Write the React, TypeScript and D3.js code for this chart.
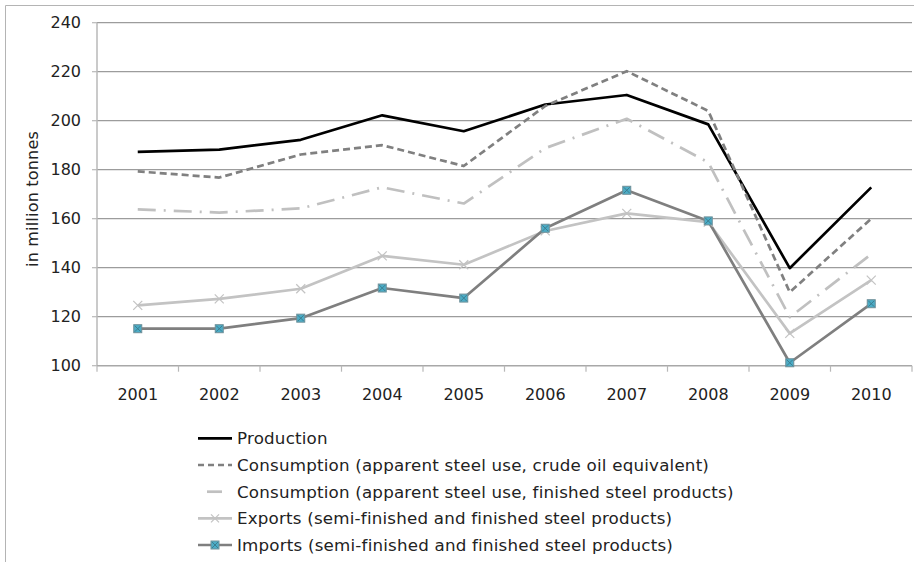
import React from "react";
import * as d3 from "d3";

const years = ["2001","2002","2003","2004","2005","2006","2007","2008","2009","2010"];
const production = [187.3, 188.2, 192.2, 202.2, 195.7, 206.6, 210.5, 198.5, 139.8, 172.8];
const consumptionCrude = [179.3, 176.8, 186.2, 190.0, 181.5, 206.0, 220.2, 204.0, 130.0, 160.0];
const consumptionFinished = [163.8, 162.5, 164.2, 172.8, 166.2, 188.8, 200.8, 183.0, 119.8, 145.5];
const exportsVals = [124.6, 127.3, 131.4, 144.8, 141.2, 155.0, 162.2, 158.6, 113.2, 134.9];
const importsVals = [115.1, 115.1, 119.4, 131.7, 127.6, 156.1, 171.6, 159.1, 101.2, 125.3];
const yTicks = [100, 120, 140, 160, 180, 200, 220, 240];
const legendLabels = [
  "Production",
  "Consumption (apparent steel use, crude oil equivalent)",
  "Consumption (apparent steel use, finished steel products)",
  "Exports (semi-finished and finished steel products)",
  "Imports (semi-finished and finished steel products)",
];

const FONT = "'DejaVu Sans', sans-serif";

export default function App() {
  const W = 914, H = 562;
  const left = 97, right = 912, top = 22.7, bottom = 365.7;
  const x = d3.scaleBand<string>().domain(years).range([left, right]);
  const y = d3.scaleLinear().domain([100, 240]).range([bottom, top]);
  const cx = (i: number) => (x(years[i]) as number) + x.bandwidth() / 2;
  const line = d3.line<number>().x((_, i) => cx(i)).y((d) => y(d));

  const series = [
    { values: production, color: "#000000", dash: undefined as string | undefined, width: 2.7 },
    { values: consumptionCrude, color: "#808080", dash: "7,4", width: 2.7 },
    { values: consumptionFinished, color: "#c0c0c0", dash: "18,8,2,8", width: 2.7 },
    { values: exportsVals, color: "#c3c3c3", dash: undefined, width: 2.7 },
    { values: importsVals, color: "#7f7f7f", dash: undefined, width: 2.7 },
  ];

  const boundaries = [...years.map((yr) => x(yr) as number), right];
  const legendY = [438.3, 465, 491.7, 518.3, 545];

  const xMarker = (px: number, py: number, s: number, color: string, w: number, key: string) => (
    <g key={key} stroke={color} strokeWidth={w}>
      <line x1={px - s} y1={py - s} x2={px + s} y2={py + s} />
      <line x1={px - s} y1={py + s} x2={px + s} y2={py - s} />
    </g>
  );
  const sqMarker = (px: number, py: number, key: string) => (
    <g key={key}>
      <rect x={px - 4} y={py - 4} width={8} height={8} fill="#4bacc6" stroke="#6f8f98" strokeWidth={1} />
      <line x1={px - 3} y1={py - 3} x2={px + 3} y2={py + 3} stroke="#3d7e90" strokeWidth={1} />
      <line x1={px - 3} y1={py + 3} x2={px + 3} y2={py - 3} stroke="#3d7e90" strokeWidth={1} />
    </g>
  );

  return (
    <div style={{ position: "absolute", left: 0, top: 0, background: "#fff" }}>
      <svg width={W} height={H} style={{ display: "block" }} fontFamily={FONT}>
        <rect x={0} y={0} width={W} height={H} fill="#ffffff" />
        <line x1={5.5} y1={5.5} x2={W} y2={5.5} stroke="#b4b4b4" strokeWidth={1} />
        <line x1={5.5} y1={5.5} x2={5.5} y2={H} stroke="#b4b4b4" strokeWidth={1} />

        {yTicks.filter((t) => t !== 100).map((t) => (
          <line key={"g" + t} x1={left} x2={right} y1={y(t)} y2={y(t)} stroke="#9c9c9c" strokeWidth={1.2} />
        ))}
        <line x1={left} x2={left} y1={top} y2={bottom} stroke="#b8b8b8" strokeWidth={1.5} />
        {yTicks.map((t) => (
          <g key={"yt" + t}>
            <line x1={left - 5} x2={left} y1={y(t)} y2={y(t)} stroke="#b8b8b8" strokeWidth={1.2} />
            <text x={81} y={y(t)} dy="0.36em" textAnchor="end" fontSize={16} fill="#222">{t}</text>
          </g>
        ))}
        <line x1={left} x2={right} y1={bottom} y2={bottom} stroke="#a8a8a8" strokeWidth={1.5} />
        {boundaries.map((b, i) => (
          <line key={"xt" + i} x1={b} x2={b} y1={bottom} y2={bottom + 6} stroke="#b8b8b8" strokeWidth={1.2} />
        ))}
        {years.map((yr, i) => (
          <text key={"xl" + yr} x={cx(i)} y={394} dy="0.36em" textAnchor="middle" fontSize={16} fill="#222">{yr}</text>
        ))}
        <text transform={`translate(32,199) rotate(-90)`} textAnchor="middle" dy="0.36em" fontSize={16} fill="#222" letterSpacing={0.2}>in million tonnes</text>

        {series.map((s, si) => (
          <path key={"s" + si} d={line(s.values) as string} fill="none" stroke={s.color} strokeWidth={s.width}
            strokeDasharray={s.dash} strokeLinejoin="round" />
        ))}
        {exportsVals.map((v, i) => xMarker(cx(i), y(v), 4.5, "#c3c3c3", 1.2, "em" + i))}
        {importsVals.map((v, i) => sqMarker(cx(i), y(v), "im" + i))}

        {legendLabels.map((lab, i) => {
          const ly = legendY[i];
          const s = series[i];
          let sym: React.ReactNode;
          if (i === 2) {
            sym = <line x1={207} x2={222} y1={ly} y2={ly} stroke={s.color} strokeWidth={2.7} />;
          } else {
            sym = <line x1={198} x2={232} y1={ly} y2={ly} stroke={s.color} strokeWidth={2.7} strokeDasharray={i === 1 ? "6,4" : undefined} />;
          }
          return (
            <g key={"lg" + i}>
              {sym}
              {i === 3 && xMarker(215, ly, 4, "#c3c3c3", 1.2, "lgx")}
              {i === 4 && sqMarker(215, ly, "lgs")}
              <text x={237} y={ly} dy="0.36em" fontSize={16.7} letterSpacing={0.2} fill="#222">{lab}</text>
            </g>
          );
        })}
      </svg>
    </div>
  );
}
